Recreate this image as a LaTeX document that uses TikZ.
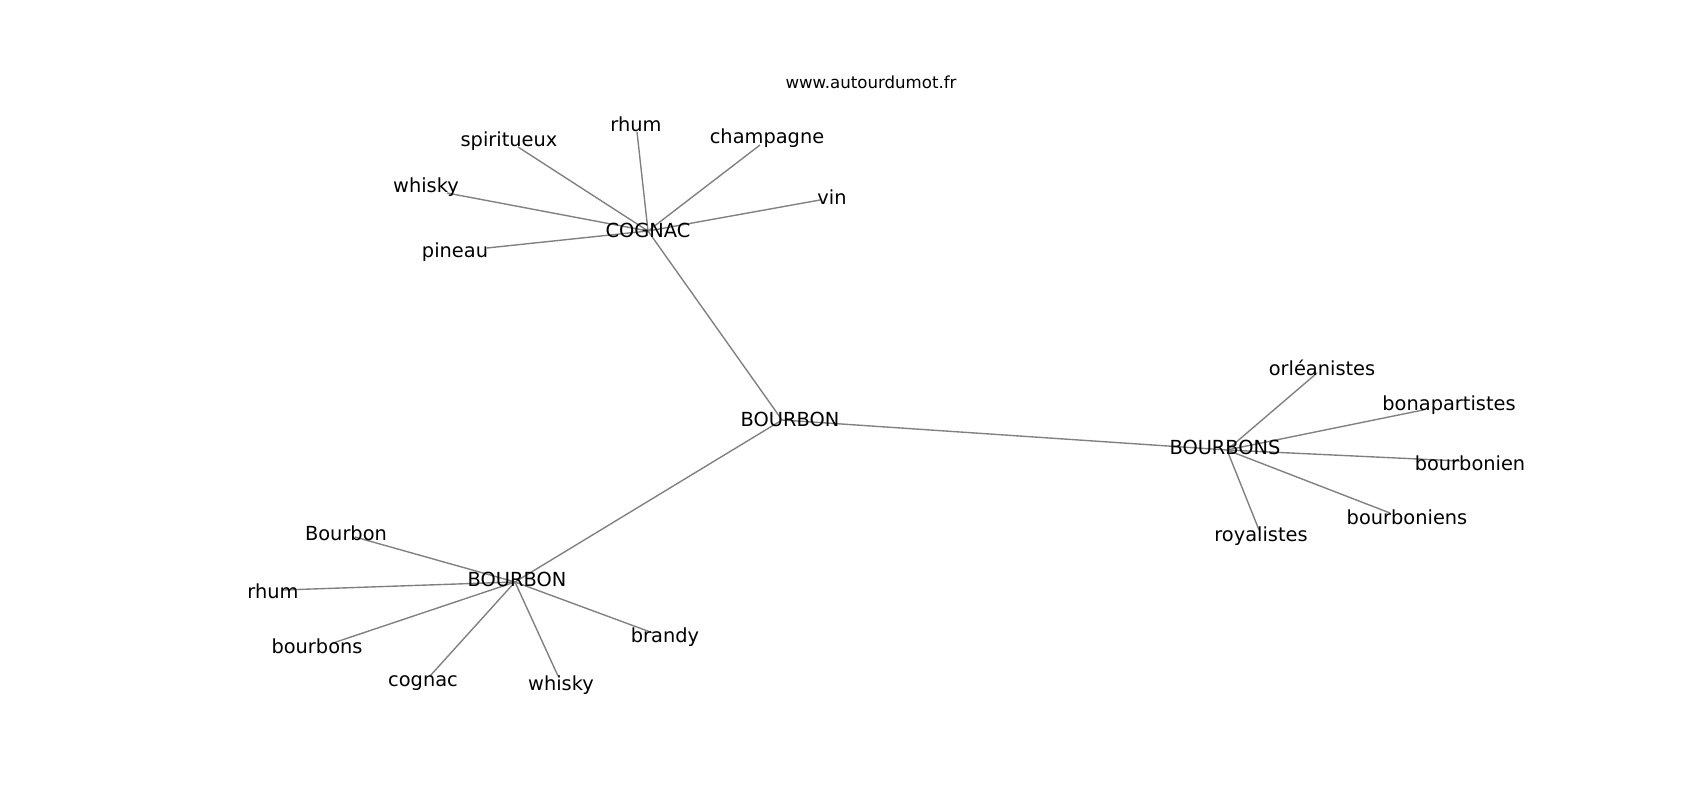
\documentclass[tikz,border=0pt]{standalone}
\usepackage{fontspec}
\setmainfont{DejaVu Sans}
\usepackage{tikz}

\begin{document}
\begin{tikzpicture}[x=0.01in, y=-0.01in, every node/.style={inner sep=0pt, font=\fontsize{14}{16}\selectfont}]
  \useasboundingbox (0,0) rectangle (1700,800);
  % vertices
  \coordinate (bourbon) at (782,420);
  \coordinate (cognac) at (648,231);
  \coordinate (bourbons) at (1227,450);
  \coordinate (bourbonb) at (515,582);
  \coordinate (c1) at (518,147);
  \coordinate (c2) at (637,132);
  \coordinate (c3) at (760,145);
  \coordinate (c4) at (820,200);
  \coordinate (c5) at (447,193);
  \coordinate (c6) at (487,248);
  \coordinate (s1) at (1317,373);
  \coordinate (s2) at (1423,410);
  \coordinate (s3) at (1460,461);
  \coordinate (s4) at (1390,513);
  \coordinate (s5) at (1259,530);
  \coordinate (b1) at (355,537);
  \coordinate (b2) at (283,590);
  \coordinate (b3) at (333,643);
  \coordinate (b4) at (430,676);
  \coordinate (b5) at (558,676);
  \coordinate (b6) at (653,633);
  % edges
  \draw [black!50, line width=1pt] (bourbon) -- (cognac);
  \draw [black!50, line width=1pt] (bourbon) -- (bourbons);
  \draw [black!50, line width=1pt] (bourbon) -- (bourbonb);
  \draw [black!50, line width=1pt] (cognac) -- (c1);
  \draw [black!50, line width=1pt] (cognac) -- (c2);
  \draw [black!50, line width=1pt] (cognac) -- (c3);
  \draw [black!50, line width=1pt] (cognac) -- (c4);
  \draw [black!50, line width=1pt] (cognac) -- (c5);
  \draw [black!50, line width=1pt] (cognac) -- (c6);
  \draw [black!50, line width=1pt] (bourbons) -- (s1);
  \draw [black!50, line width=1pt] (bourbons) -- (s2);
  \draw [black!50, line width=1pt] (bourbons) -- (s3);
  \draw [black!50, line width=1pt] (bourbons) -- (s4);
  \draw [black!50, line width=1pt] (bourbons) -- (s5);
  \draw [black!50, line width=1pt] (bourbonb) -- (b1);
  \draw [black!50, line width=1pt] (bourbonb) -- (b2);
  \draw [black!50, line width=1pt] (bourbonb) -- (b3);
  \draw [black!50, line width=1pt] (bourbonb) -- (b4);
  \draw [black!50, line width=1pt] (bourbonb) -- (b5);
  \draw [black!50, line width=1pt] (bourbonb) -- (b6);
  % labels
  \node (site) [font=\fontsize{12}{14}\selectfont] at (871,82) {www.autourdumot.fr};
  \node (bourbon-t) at (790,419) {BOURBON};
  \node (cognac-t) at (648,230) {COGNAC};
  \node (bourbons-t) at (1225,447) {BOURBONS};
  \node (bourbonb-t) at (517,579) {BOURBON};
  \node (c1-t) at (509,141) {spiritueux};
  \node (c2-t) at (636,124) {rhum};
  \node (c3-t) at (767,138) {champagne};
  \node (c4-t) at (832,197) {vin};
  \node (c5-t) at (426,187) {whisky};
  \node (c6-t) at (455,252) {pineau};
  \node (s1-t) at (1322,368) {orléanistes};
  \node (s2-t) at (1449,405) {bonapartistes};
  \node (s3-t) at (1470,463) {bourbonien};
  \node (s4-t) at (1407,517) {bourboniens};
  \node (s5-t) at (1261,536) {royalistes};
  \node (b1-t) at (346,533) {Bourbon};
  \node (b2-t) at (273,591) {rhum};
  \node (b3-t) at (317,646) {bourbons};
  \node (b4-t) at (423,683) {cognac};
  \node (b5-t) at (561,685) {whisky};
  \node (b6-t) at (665,637) {brandy};
\end{tikzpicture}
\end{document}
